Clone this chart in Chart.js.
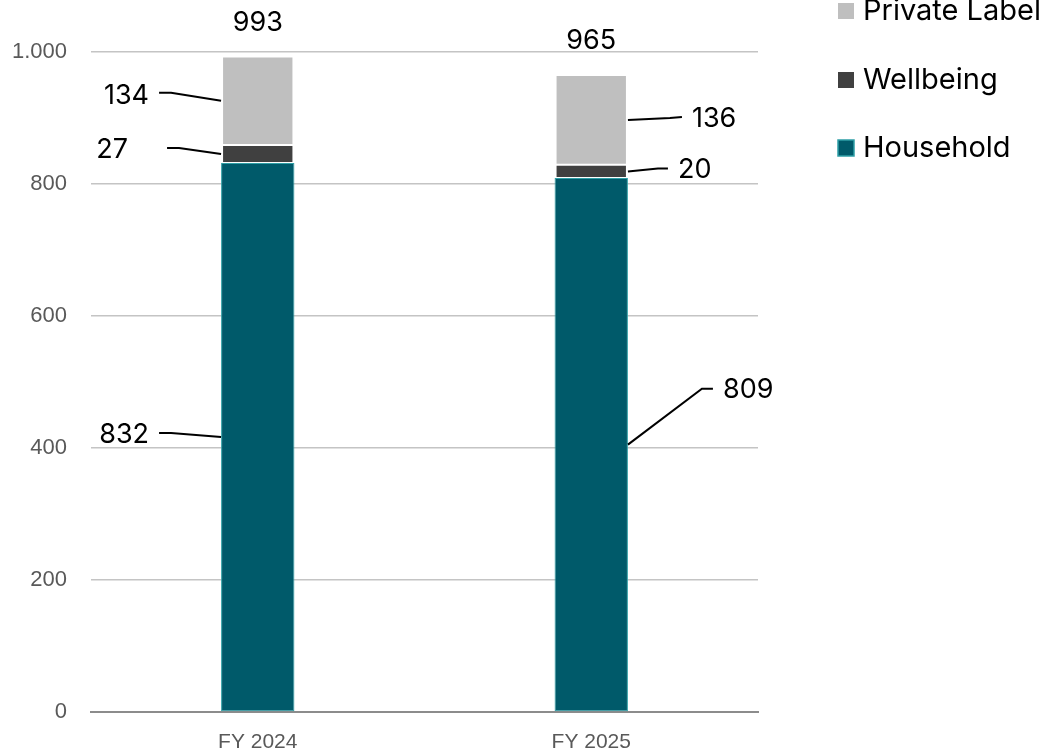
<!DOCTYPE html>
<html>
<head>
<meta charset="utf-8">
<script src="https://cdn.jsdelivr.net/npm/chart.js@4"></script>
<style>
html,body{margin:0;padding:0;background:#fff;}
#wrap{width:1045px;height:753px;position:relative;}
</style>
</head>
<body>
<div id="wrap"><canvas id="c" width="1045" height="753"></canvas></div>
<script>
const categories = ['FY 2024', 'FY 2025'];
const household = [832, 809];
const wellbeing = [27, 20];
const privateLabel = [134, 136];
const seriesNames = ['Household', 'Wellbeing', 'Private Label'];
const yTicks = [0, 200, 400, 600, 800, 1000];

const colors = {
  household: '#005A6A', householdEdge: '#2E9FA6',
  wellbeing: '#404040', privateLabel: '#BFBFBF'
};

// label placement styles: offsets relative to bar edge / segment middle
const labelStyle = [
  [ // Household
    {knee:[-50,-4], end:[-62,-4], text:[-72,-2], align:'right'},
    {knee:[74,-56], end:[85,-56], text:[95,-55], align:'left'}
  ],
  [ // Wellbeing
    {knee:[-42,-6], end:[-54,-6], text:[-93,-4], align:'right'},
    {knee:[30,-3], end:[40,-3], text:[50,-2], align:'left'}
  ],
  [ // Private Label
    {knee:[-50,-8], end:[-62,-8], text:[-72,-5], align:'right'},
    {knee:[42,-2], end:[54,-3], text:[64,-1], align:'left'}
  ]
];

const labelFont = '27px Inter, "Open Sans", sans-serif';
const axisFamily = '"Liberation Sans", Arial, sans-serif';

const labelsPlugin = {
  id: 'labelsPlugin',
  afterDatasetsDraw(chart) {
    const ctx = chart.ctx;
    ctx.save();
    ctx.font = labelFont;
    ctx.fillStyle = '#000';
    ctx.strokeStyle = '#000';
    ctx.lineWidth = 2;
    ctx.textBaseline = 'middle';
    chart.data.datasets.forEach((ds, di) => {
      const meta = chart.getDatasetMeta(di);
      meta.data.forEach((bar, i) => {
        const st = labelStyle[di][i];
        const ax = i === 0 ? bar.x - bar.width / 2 : bar.x + bar.width / 2;
        const ay = (bar.y + bar.base) / 2;
        ctx.beginPath();
        ctx.moveTo(ax, ay);
        ctx.lineTo(ax + st.knee[0], ay + st.knee[1]);
        ctx.lineTo(ax + st.end[0], ay + st.end[1]);
        ctx.stroke();
        ctx.textAlign = st.align;
        ctx.fillText(String(ds.data[i]), ax + st.text[0], ay + st.text[1]);
      });
    });
    // totals
    const topMeta = chart.getDatasetMeta(chart.data.datasets.length - 1);
    topMeta.data.forEach((bar, i) => {
      const total = chart.data.datasets.reduce((s, d) => s + d.data[i], 0);
      ctx.textAlign = 'center';
      ctx.fillText(String(total), bar.x, bar.y - 34);
    });
    ctx.restore();
  }
};

const legendPlugin = {
  id: 'customLegend',
  afterDraw(chart) {
    const ctx = chart.ctx;
    ctx.save();
    ctx.font = '29px Inter, "Open Sans", sans-serif';
    ctx.textBaseline = 'middle';
    ctx.textAlign = 'left';
    const items = chart.data.datasets.map((d, i) => ({name: d.label, fill: d.backgroundColor, edge: i === 0 ? colors.householdEdge : null})).reverse();
    const ys = [11, 80, 148];
    items.forEach((it, k) => {
      const y = ys[k];
      ctx.fillStyle = it.fill;
      ctx.fillRect(838, y - 8, 16, 16);
      if (it.edge) {
        ctx.strokeStyle = it.edge;
        ctx.lineWidth = 1.5;
        ctx.strokeRect(838, y - 8, 16, 16);
      }
      ctx.fillStyle = '#000';
      ctx.fillText(it.name, 863, y);
    });
    ctx.restore();
  }
};

new Chart(document.getElementById('c'), {
  type: 'bar',
  data: {
    labels: categories,
    datasets: [
      {label: seriesNames[0], data: household, backgroundColor: colors.household,
       borderColor: colors.householdEdge, borderWidth: 1},
      {label: seriesNames[1], data: wellbeing, backgroundColor: colors.wellbeing,
       borderColor: '#ffffff', borderWidth: {top:1, bottom:1, left:2, right:2}},
      {label: seriesNames[2], data: privateLabel, backgroundColor: colors.privateLabel,
       borderColor: '#ffffff', borderWidth: {top:1, bottom:1, left:2, right:2}}
    ]
  },
  options: {
    responsive: false,
    animation: false,
    devicePixelRatio: 1,
    layout: {padding: {top: 52, right: 287, bottom: 0, left: 0}},
    datasets: {bar: {barPercentage: 0.22, categoryPercentage: 1, borderSkipped: false, inflateAmount: 0}},
    plugins: {legend: {display: false}, tooltip: {enabled: false}},
    scales: {
      x: {
        stacked: true,
        grid: {display: false, drawTicks: false},
        border: {display: true, color: '#8C8C8C', width: 2},
        ticks: {color: '#595959', font: {family: axisFamily, size: 21}, padding: 18},
        afterFit(s) { s.height = 41; }
      },
      y: {
        stacked: true,
        min: 0, max: 1000,
        afterBuildTicks(s) { s.ticks = yTicks.map(v => ({value: v})); },
        grid: {color: '#C4C4C4', lineWidth: 1.6, drawTicks: false},
        border: {display: false},
        ticks: {
          color: '#595959', font: {family: axisFamily, size: 22}, padding: 24,
          callback: v => v === 1000 ? '1.000' : String(v)
        },
        afterFit(s) { s.width = 91; }
      }
    }
  },
  plugins: [labelsPlugin, legendPlugin]
});
</script>
</body>
</html>
